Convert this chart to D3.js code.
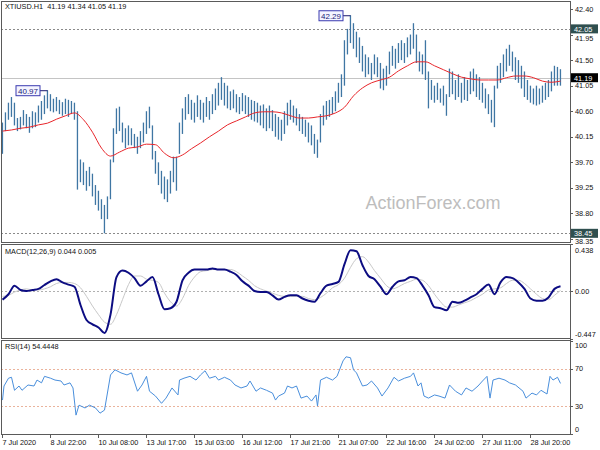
<!DOCTYPE html>
<html><head><meta charset="utf-8">
<script src="https://cdn.jsdelivr.net/npm/d3@7"></script>
<style>body{margin:0;background:#fff}svg text{font-family:"Liberation Sans",Arial,sans-serif;}</style>
</head><body><svg id="c" width="600" height="450"></svg>
<script>
// ---------------- DATA ----------------
const symbolTitle = "XTIUSD.H1  41.19 41.34 41.05 41.19";
const macdTitle = "MACD(12,26,9) 0.044 0.005";
const rsiTitle = "RSI(14) 54.4448";
const watermark = "ActionForex.com";
// price bars, one entry per 2 hourly bars (hour index = 2*i)
const barHigh = [40.40,40.58,40.75,40.85,40.75,40.48,40.50,40.62,40.55,40.50,40.60,40.58,40.70,40.78,40.88,40.97,40.90,40.82,40.85,40.80,
40.76,40.82,40.80,40.78,40.75,40.60,39.75,39.70,39.55,39.62,39.50,39.30,39.20,39.05,38.95,39.10,39.75,40.30,40.65,40.68,
40.40,40.30,40.35,40.30,40.20,40.15,40.25,40.40,40.60,40.68,40.35,39.90,39.70,39.55,39.45,39.40,39.55,39.80,39.80,40.40,
40.65,40.85,40.90,40.80,40.75,40.88,40.80,40.75,40.85,40.78,40.90,41.00,41.10,41.20,41.10,41.05,40.95,40.98,40.90,40.85,
40.92,40.88,40.85,40.80,40.78,40.75,40.70,40.72,40.65,40.70,40.62,40.55,40.50,40.45,40.60,40.75,40.80,40.70,40.65,40.55,
40.50,40.45,40.40,40.35,40.20,40.10,40.55,40.70,40.78,40.80,40.85,40.95,41.10,41.25,41.85,42.05,42.29,42.15,42.00,41.90,
41.75,41.60,41.55,41.45,41.60,41.55,41.45,41.35,41.40,41.65,41.75,41.70,41.80,41.85,41.80,41.90,41.95,42.15,41.95,41.65,
41.60,41.85,41.30,41.15,41.05,41.10,41.00,41.05,40.90,41.35,41.30,41.15,41.25,41.10,41.20,41.15,41.30,41.35,41.25,41.20,
41.10,41.00,40.90,40.80,41.05,41.40,41.45,41.60,41.70,41.77,41.65,41.55,41.50,41.40,41.30,41.15,41.05,41.00,41.05,41.00,
41.05,41.10,41.15,41.30,41.40,41.38,41.34];
const barLow = [39.85,40.25,40.45,40.50,40.35,40.25,40.28,40.35,40.30,40.22,40.30,40.32,40.40,40.45,40.55,40.65,40.60,40.58,40.60,40.55,
40.52,40.55,40.50,40.55,40.45,39.22,39.35,39.30,39.20,39.28,39.10,38.95,38.85,38.70,38.45,38.70,39.05,39.70,40.20,40.25,
40.05,39.95,40.00,40.00,39.95,39.85,39.95,40.05,40.20,40.30,39.75,39.50,39.30,39.15,39.05,39.00,39.15,39.35,39.20,39.85,
40.20,40.45,40.55,40.45,40.40,40.50,40.45,40.40,40.50,40.45,40.55,40.62,40.70,40.80,40.70,40.65,40.62,40.65,40.58,40.55,
40.60,40.55,40.50,40.45,40.42,40.40,40.35,40.30,40.25,40.30,40.25,40.15,40.10,40.08,40.20,40.35,40.45,40.40,40.35,40.25,
40.20,40.15,40.05,40.00,39.85,39.78,40.05,40.35,40.45,40.50,40.55,40.60,40.75,40.85,41.05,41.60,41.80,41.70,41.55,41.45,
41.30,41.20,41.25,41.15,41.25,41.20,41.00,40.97,41.05,41.25,41.40,41.35,41.45,41.50,41.45,41.55,41.60,41.70,41.45,41.30,
41.25,41.15,40.65,40.80,40.75,40.80,40.75,40.70,40.52,40.85,40.90,40.80,40.85,40.75,40.80,40.78,40.90,40.95,40.85,40.80,
40.75,40.65,40.55,40.40,40.32,41.00,41.10,41.20,41.30,41.40,41.30,41.15,41.10,41.00,40.85,40.80,40.75,40.72,40.70,40.72,
40.75,40.80,40.85,40.95,41.05,41.05,41.05];
// moving average, one value every 6 hourly bars
const maValues = [40.25,40.27,40.30,40.32,40.36,40.39,40.46,40.52,40.57,40.45,40.23,39.95,39.81,39.88,39.95,39.97,40.02,40.01,39.86,39.78,
39.83,39.94,40.04,40.15,40.25,40.36,40.43,40.50,40.57,40.59,40.59,40.57,40.52,40.48,40.48,40.50,40.52,40.57,40.67,40.87,
41.01,41.10,41.15,41.20,41.31,41.40,41.47,41.47,41.40,41.33,41.26,41.20,41.17,41.15,41.15,41.15,41.19,41.22,41.22,41.19,
41.13,41.11,41.13];
// MACD main and signal, one value every 4 hourly bars
const macdValues = [-0.08,-0.03,0.05,0.01,0.00,0.01,0.02,0.056,0.09,0.11,0.08,0.06,0.04,-0.13,-0.27,-0.31,-0.34,-0.39,-0.22,0.13,
0.19,0.17,0.12,0.05,0.09,0.13,-0.03,-0.17,-0.16,-0.10,0.10,0.17,0.20,0.20,0.20,0.21,0.20,0.20,0.18,0.15,
0.09,0.05,0.00,-0.01,-0.01,-0.04,-0.08,-0.055,-0.04,-0.04,-0.07,-0.09,-0.10,-0.02,0.05,0.065,0.085,0.25,0.38,0.37,
0.24,0.14,0.11,0.04,-0.03,0.04,0.09,0.10,0.13,0.12,0.05,-0.04,-0.15,-0.16,-0.18,-0.10,-0.11,-0.09,-0.06,-0.03,
0.02,0.06,-0.03,0.08,0.13,0.12,0.08,0.02,-0.07,-0.09,-0.09,-0.06,0.02,0.044];
const signalValues = [-0.05,-0.04,-0.01,0.01,0.02,0.01,0.01,0.02,0.04,0.07,0.08,0.08,0.07,0.03,-0.05,-0.14,-0.22,-0.29,-0.31,-0.22,
-0.08,0.06,0.14,0.14,0.11,0.10,0.08,-0.02,-0.10,-0.14,-0.07,0.05,0.13,0.18,0.19,0.20,0.20,0.20,0.20,0.18,
0.14,0.10,0.05,0.02,0.00,-0.02,-0.04,-0.05,-0.05,-0.05,-0.05,-0.07,-0.08,-0.06,-0.02,0.03,0.06,0.12,0.22,0.30,
0.32,0.27,0.19,0.12,0.05,0.02,0.04,0.07,0.09,0.11,0.10,0.05,-0.03,-0.10,-0.15,-0.15,-0.13,-0.11,-0.09,-0.06,
-0.03,0.01,0.02,0.03,0.07,0.10,0.10,0.07,0.02,-0.03,-0.07,-0.08,-0.04,0.005];
// RSI(14): [hour index, value]
const rsiPoints = [[0,36.5],[1,51.6],[4,60],[6,61],[8,47],[11,51.6],[13,47],[17,52.7],[21,51.6],[23,58],[26,55],[28,62],[32,60],[35,58],[39,57],[41,52.7],[45,55],[47,49.5],
[49,20.3],[51,31],[55,28],[58,31],[62,28],[65,22.4],[68,25.7],[72,63.5],[75,69],[79,65.7],[83,63.5],[86,65.7],[90,46],[93,52.7],[96,62],[98,46],[102,40.8],[106,33],
[109,38.6],[113,49.5],[117,42],[118,58],[121,60],[125,62],[129,58],[132,63.5],[135,68],[138,60],[142,62],[144,58],[148,61],[152,58],[155,52.7],[159,49.5],[163,51.6],[165,57],
[169,46],[172,49.5],[176,47],[180,44],[182,36.5],[184,40.8],[188,44],[190,51.6],[193,49.5],[196,51.6],[199,38.6],[203,40.8],[206,35.4],[209,42],[210,30],[212,58],[216,61],[220,58],
[223,62],[227,78.6],[229,83],[232,82],[234,69],[236,65.7],[240,51.6],[243,52.7],[246,57],[250,49.5],[253,40.8],[257,49.5],[261,61],[264,57],[268,60],[272,62],[274,65.7],[277,51.6],
[279,55],[281,40.8],[284,38.6],[288,42],[291,40.8],[295,38.6],[298,52.7],[302,46],[306,42],[309,49.5],[313,46],[317,51.6],[320,57],[323,62],[325,38.6],[327,58],[331,60],[335,58],
[338,55],[342,52.7],[347,46],[349,38.6],[353,44],[356,42],[359,47],[363,43],[365,62],[367,58],[370,61],[372,54.4]];
// axes
const priceTicks = [42.40,41.95,41.50,41.05,40.60,40.15,39.70,39.25,38.80,38.35];
const levelLines = [42.05,38.45];
const lastPrice = 41.19;
const peakNotes = [{hour:30, price:40.97},{hour:232, price:42.29}];
const macdTicks = [0.438,0.00,-0.447];
const rsiTicks = [100,70,30,0];
const rsiLevels = [70,30];
const timeHours = [0,32,64,96,128,160,192,224,256,288,320,352];
const timeLabels = ["7 Jul 2020","8 Jul 22:00","10 Jul 08:00","13 Jul 17:00","15 Jul 03:00","16 Jul 12:00","17 Jul 21:00","21 Jul 07:00","22 Jul 16:00","24 Jul 02:00","27 Jul 11:00","28 Jul 20:00"];

// ---------------- LAYOUT ----------------
const svg = d3.select("#c");
const L = 1, R = 570;
const P = {main:[1,242], macd:[244,338], rsi:[340,434]};
const x = d3.scaleLinear().domain([0,372]).range([2.5,560.5]);
const yP = d3.scaleLinear().domain([38.35,42.40]).range([239,9]);
const yM = d3.scaleLinear().domain([-0.447,0.438]).range([339,244]);
const yR = d3.scaleLinear().domain([0,100]).range([434,341]);
const FS = 7.3;

const defs = svg.append("defs");
Object.entries(P).forEach(([k,[t,b]])=>{
  defs.append("clipPath").attr("id","clip-"+k).append("rect").attr("x",L+1).attr("y",t+1).attr("width",R-L-1).attr("height",b-t-1);
});

// ---- main panel ----
const gm = svg.append("g").attr("clip-path","url(#clip-main)");
gm.selectAll("line.lvl").data(levelLines).join("line")
  .attr("x1",L).attr("x2",R).attr("y1",d=>Math.round(yP(d))+0.5).attr("y2",d=>Math.round(yP(d))+0.5)
  .attr("stroke","#8a8a8a").attr("stroke-dasharray","2,2");
gm.append("line").attr("x1",L).attr("x2",R).attr("y1",Math.round(yP(lastPrice))+0.5).attr("y2",Math.round(yP(lastPrice))+0.5)
  .attr("stroke","#c4c4c4");
// watermark
svg.append("text").attr("x",433).attr("y",209).attr("text-anchor","middle")
  .attr("font-size",18).attr("fill","#bdbdbd").text(watermark);
// bars
gm.selectAll("rect.bar").data(barHigh).join("rect")
  .attr("x",(d,i)=>x(2*i)-0.7).attr("width",1.3)
  .attr("y",d=>yP(d)).attr("height",(d,i)=>Math.max(1,yP(barLow[i])-yP(d)))
  .attr("fill","#3f76a3");
// moving average
gm.append("path").datum(maValues)
  .attr("d",d3.line().x((d,i)=>x(6*i)).y(d=>yP(d)).curve(d3.curveMonotoneX))
  .attr("fill","none").attr("stroke","#e8262b").attr("stroke-width",1);
// peak notes
peakNotes.forEach(n=>{
  const px = x(n.hour), py = yP(n.price);
  const bw = 24, bh = 10, bx = px-bw-8, by = py-bh/2;
  svg.append("line").attr("x1",bx+bw).attr("x2",px).attr("y1",py+0.5).attr("y2",py+0.5).attr("stroke","#1a1a6e");
  svg.append("rect").attr("x",bx+0.5).attr("y",by+0.5).attr("width",bw).attr("height",bh)
    .attr("fill","#f4f4ff").attr("stroke","#3a3ab0");
  svg.append("text").attr("x",bx+bw/2+0.5).attr("y",py+0.8).attr("text-anchor","middle").attr("dominant-baseline","central")
    .attr("font-size",8).attr("fill","#22227a").text(n.price.toFixed(2));
});
svg.append("text").attr("x",5).attr("y",9).attr("font-size",FS).attr("fill","#111").attr("xml:space","preserve").text(symbolTitle);

// ---- MACD panel ----
const gmc = svg.append("g").attr("clip-path","url(#clip-macd)");
gmc.append("line").attr("x1",L).attr("x2",R).attr("y1",Math.round(yM(0))+0.5).attr("y2",Math.round(yM(0))+0.5)
  .attr("stroke","#b0b0b0").attr("stroke-dasharray","2,2");
gmc.append("path").datum(signalValues)
  .attr("d",d3.line().x((d,i)=>x(4*i)).y(d=>yM(d)).curve(d3.curveMonotoneX))
  .attr("fill","none").attr("stroke","#c8c8c8").attr("stroke-width",1);
gmc.append("path").datum(macdValues)
  .attr("d",d3.line().x((d,i)=>x(4*i)).y(d=>yM(d)).curve(d3.curveMonotoneX))
  .attr("fill","none").attr("stroke","#0c0c82").attr("stroke-width",2);
svg.append("text").attr("x",5).attr("y",254).attr("font-size",FS).attr("fill","#111").text(macdTitle);

// ---- RSI panel ----
const gr = svg.append("g").attr("clip-path","url(#clip-rsi)");
gr.selectAll("line.rl").data(rsiLevels).join("line")
  .attr("x1",L).attr("x2",R).attr("y1",d=>Math.round(yR(d))+0.5).attr("y2",d=>Math.round(yR(d))+0.5)
  .attr("stroke","#eab39c").attr("stroke-dasharray","2,2");
gr.append("path").datum(rsiPoints)
  .attr("d",d3.line().x(d=>x(d[0])).y(d=>yR(d[1])))
  .attr("fill","none").attr("stroke","#4a8fdc").attr("stroke-width",1);
svg.append("text").attr("x",5).attr("y",349).attr("font-size",FS).attr("fill","#111").text(rsiTitle);

// ---- frames ----
Object.values(P).forEach(([t,b])=>{
  svg.append("rect").attr("x",L+0.5).attr("y",t+0.5).attr("width",R-L).attr("height",b-t)
    .attr("fill","none").attr("stroke","#5a5a5a");
});

// ---- right axes ----
function axisLabels(vals, scale, fmt, dyFn){
  vals.forEach((v,i)=>{
    const y = scale(v);
    svg.append("line").attr("x1",R).attr("x2",R+3).attr("y1",Math.round(y)+0.5).attr("y2",Math.round(y)+0.5).attr("stroke","#5a5a5a");
    svg.append("text").attr("x",R+5).attr("y",y+(dyFn?dyFn(i):0)).attr("dominant-baseline","central")
      .attr("font-size",FS).attr("fill","#111").text(fmt(v));
  });
}
axisLabels(priceTicks, yP, v=>v.toFixed(2), i=>i===1?3.5:(i===9?2.5:0));
axisLabels(macdTicks, yM, v=>v===0?"0.00":v.toFixed(3), i=>i===0?6:(i===2?-5:0));
axisLabels(rsiTicks, yR, v=>String(v), i=>i===0?4:(i===3?-5:0));

function tag(v, fill){
  const y = yP(v);
  svg.append("rect").attr("x",R+1).attr("y",y-4.5).attr("width",27).attr("height",9).attr("fill",fill);
  svg.append("text").attr("x",R+4).attr("y",y+0.3).attr("dominant-baseline","central")
    .attr("font-size",FS).attr("fill","#fff").text(v.toFixed(2));
}
levelLines.forEach(v=>tag(v,"#2f4f4f"));
tag(lastPrice,"#000");

// ---- time axis ----
timeHours.forEach((h,i)=>{
  const tx = Math.round(x(h))-0.5;
  svg.append("line").attr("x1",tx).attr("x2",tx).attr("y1",434).attr("y2",438).attr("stroke","#5a5a5a");
  svg.append("text").attr("x",tx).attr("y",445).attr("font-size",FS).attr("fill","#111").text(timeLabels[i]);
});
</script></body></html>
